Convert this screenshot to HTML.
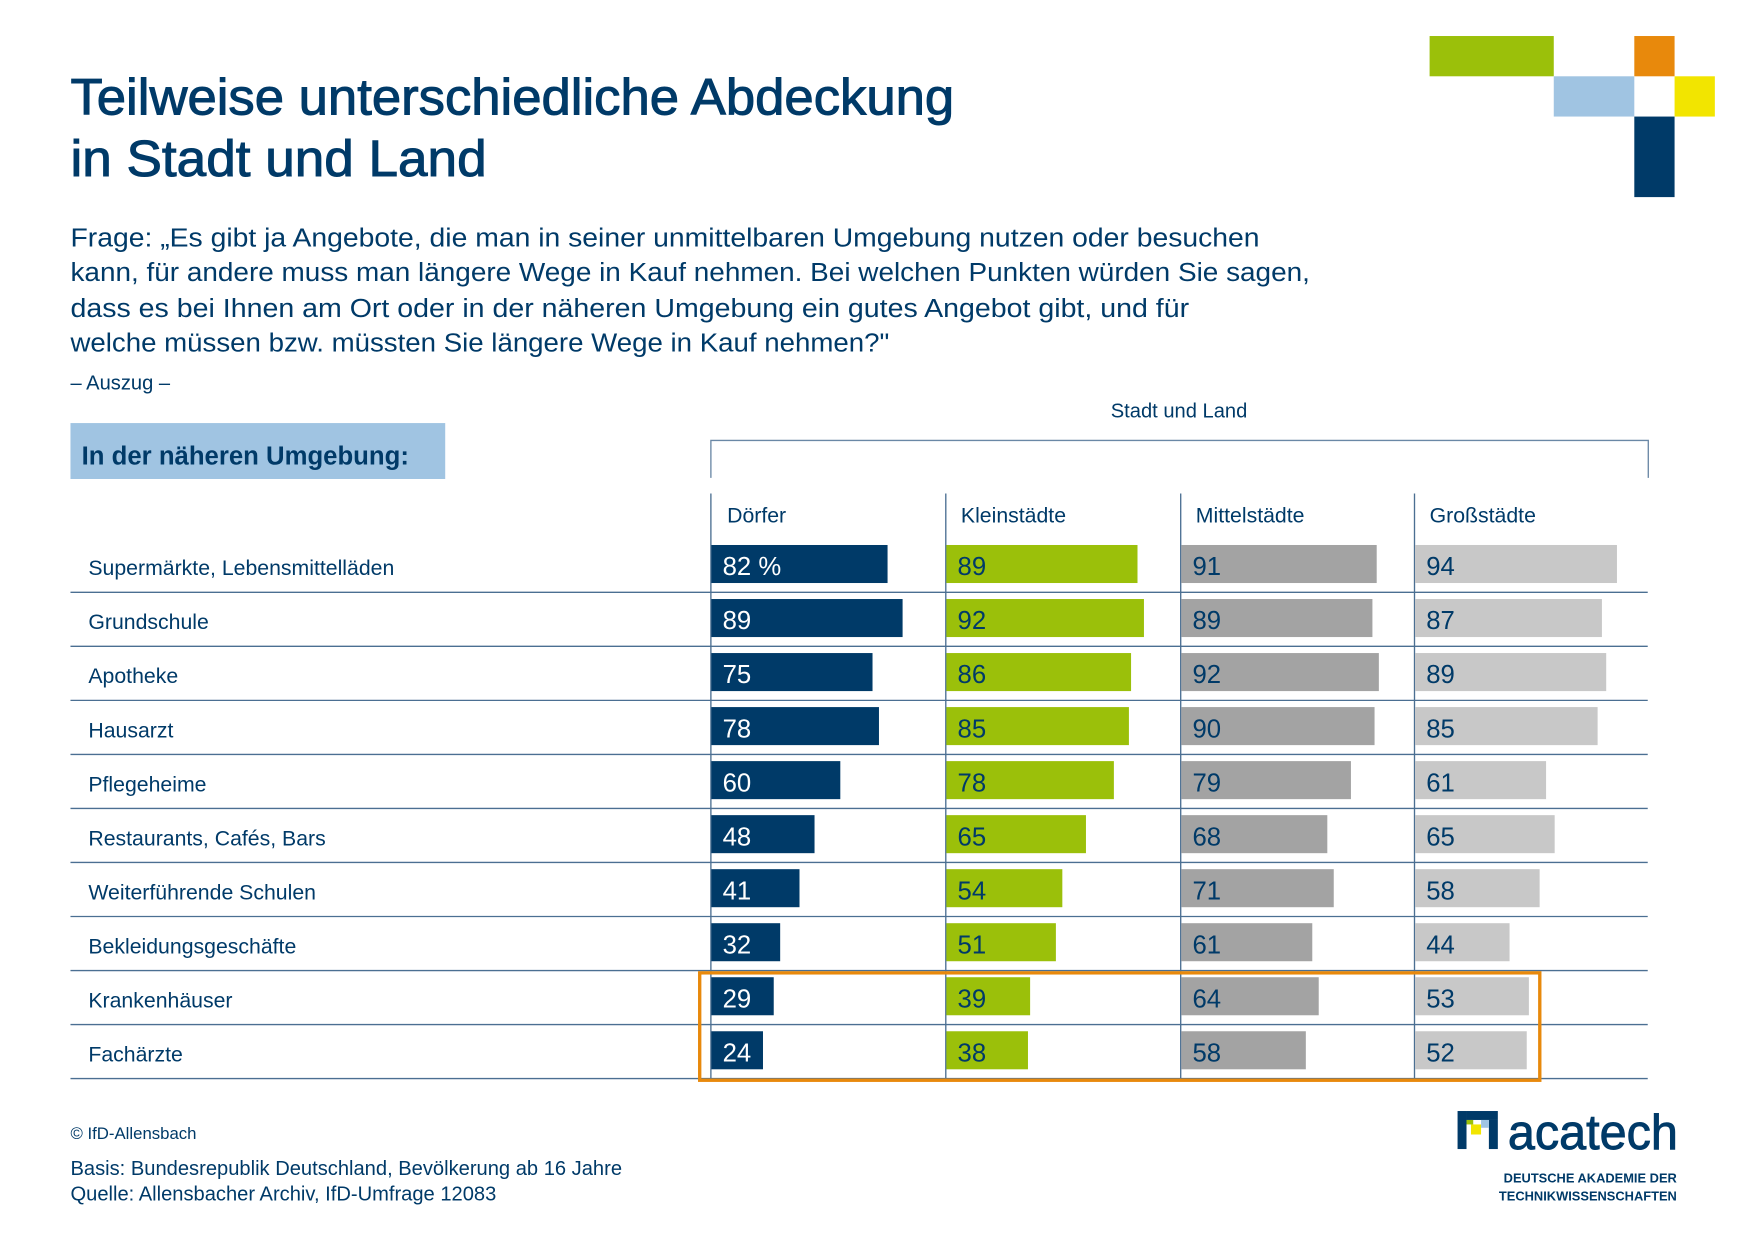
<!DOCTYPE html>
<html><head><meta charset="utf-8"><style>html,body{margin:0;padding:0;background:#fff}svg{display:block}text{font-family:"Liberation Sans",sans-serif}</style></head><body>
<svg width="1754" height="1241" viewBox="0 0 1568 1109" xmlns="http://www.w3.org/2000/svg">
<rect x="1278" y="32" width="111" height="36" fill="#9bc00a"/>
<rect x="1461" y="32" width="36" height="36" fill="#e8890c"/>
<rect x="1389" y="68" width="72" height="36" fill="#a0c4e2"/>
<rect x="1497" y="68" width="36" height="36" fill="#f2e500"/>
<rect x="1461" y="104" width="36" height="72" fill="#003a68"/>
<g fill="#003a68">
<g stroke="#003a68" stroke-width="0.9">
<text x="63" y="102" font-size="46" textLength="790" lengthAdjust="spacingAndGlyphs">Teilweise unterschiedliche Abdeckung</text>
<text x="63" y="157" font-size="46" textLength="372" lengthAdjust="spacingAndGlyphs">in Stadt und Land</text>
</g>
<g font-size="23">
<text x="63" y="220" textLength="1063" lengthAdjust="spacingAndGlyphs">Frage: „Es gibt ja Angebote, die man in seiner unmittelbaren Umgebung nutzen oder besuchen</text>
<text x="63" y="251" textLength="1108" lengthAdjust="spacingAndGlyphs">kann, für andere muss man längere Wege in Kauf nehmen. Bei welchen Punkten würden Sie sagen,</text>
<text x="63" y="283" textLength="1000" lengthAdjust="spacingAndGlyphs">dass es bei Ihnen am Ort oder in der näheren Umgebung ein gutes Angebot gibt, und für</text>
<text x="63" y="314" textLength="732" lengthAdjust="spacingAndGlyphs">welche müssen bzw. müssten Sie längere Wege in Kauf nehmen?"</text>
</g>
<text x="63" y="348" font-size="18">– Auszug –</text>
<text x="1054" y="373" font-size="18" text-anchor="middle">Stadt und Land</text>
</g>
<path d="M635.5 427V393.5H1473.5V427" fill="none" stroke="#6a88a6" stroke-width="1.2"/>
<rect x="63" y="378" width="335" height="50" fill="#a0c4e2"/>
<text x="73" y="415" font-size="23" font-weight="bold" fill="#003a68">In der näheren Umgebung:</text>
<g stroke="#4b6f92" stroke-width="1.2">
<line x1="635.5" y1="441" x2="635.5" y2="965"/><line x1="845.5" y1="441" x2="845.5" y2="965"/><line x1="1055.5" y1="441" x2="1055.5" y2="965"/><line x1="1264.5" y1="441" x2="1264.5" y2="965"/>
</g>
<g fill="#003a68" font-size="19">
<text x="650" y="467">Dörfer</text><text x="859" y="467">Kleinstädte</text><text x="1069" y="467">Mittelstädte</text><text x="1278" y="467">Großstädte</text>
</g>
<g id="rows"></g>
<rect x="625.5" y="869.5" width="751" height="96" fill="none" stroke="#e8890c" stroke-width="3"/>
<g fill="#003a68">
<text x="63" y="1018" font-size="15">© IfD-Allensbach</text>
<text x="63" y="1050" font-size="18">Basis: Bundesrepublik Deutschland, Bevölkerung ab 16 Jahre</text>
<text x="63" y="1073" font-size="18">Quelle: Allensbacher Archiv, IfD-Umfrage 12083</text>
<text x="1348" y="1027" font-size="44" textLength="152" lengthAdjust="spacingAndGlyphs" stroke="#003a68" stroke-width="0.8">acatech</text>
<text x="1499" y="1057" font-size="11.5" font-weight="bold" text-anchor="end">DEUTSCHE AKADEMIE DER</text>
<text x="1499" y="1073" font-size="11.5" font-weight="bold" text-anchor="end">TECHNIKWISSENSCHAFTEN</text>
<rect x="1303" y="993" width="8" height="34"/><rect x="1311" y="993" width="28" height="8"/><rect x="1331" y="1001" width="8" height="26"/>
</g>
<rect x="1315" y="1005" width="9" height="9" fill="#f2e500"/><rect x="1311" y="1001" width="6" height="4" fill="#9bc00a"/><rect x="1324" y="1001" width="7" height="7" fill="#a0c4e2"/>
</svg>
<script>
var d=[["Supermärkte, Lebensmittelläden",82,89,91,94],["Grundschule",89,92,89,87],["Apotheke",75,86,92,89],["Hausarzt",78,85,90,85],["Pflegeheime",60,78,79,61],["Restaurants, Cafés, Bars",48,65,68,65],["Weiterführende Schulen",41,54,71,58],["Bekleidungsgeschäfte",32,51,61,44],["Krankenhäuser",29,39,64,53],["Fachärzte",24,38,58,52]];
var xs=[636,846,1056,1265],cols=["#003a68","#9bc00a","#a3a3a3","#c8c8c8"],s="";
d.forEach(function(r,i){var y=487+i*48.3;
s+='<text x="79" y="'+(y+27)+'" font-size="19" fill="#003a68">'+r[0]+'</text>';
for(var j=0;j<4;j++){s+='<rect x="'+xs[j]+'" y="'+y+'" width="'+(r[j+1]*1.92)+'" height="34" fill="'+cols[j]+'"/>';
s+='<text x="'+(xs[j]+10)+'" y="'+(y+27)+'" font-size="23" fill="'+(j==0?"#fff":"#003a68")+'">'+r[j+1]+(i==0&&j==0?" %":"")+'</text>';}
s+='<line x1="63" x2="1473" y1="'+(y+42.3)+'" y2="'+(y+42.3)+'" stroke="#4b6f92" stroke-width="1.2"/>';});
document.getElementById("rows").innerHTML=s;
</script>
</body></html>
